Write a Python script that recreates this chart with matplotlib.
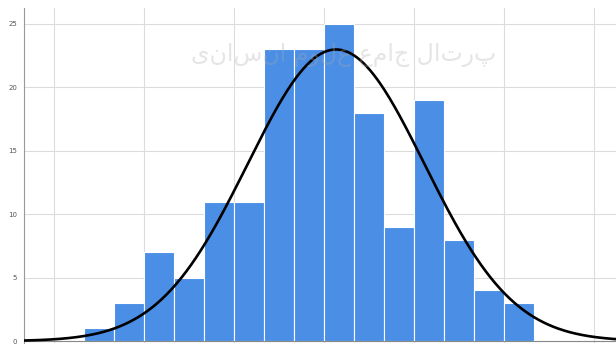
import numpy as np
import matplotlib.pyplot as plt

# histogram counts, one per bin (bin width 1, first bin starts at x=2)
bin_starts = [2, 3, 4, 5, 6, 7, 8, 9, 10, 11, 12, 13, 14, 15, 16]
counts = [1, 3, 7, 5, 11, 11, 23, 23, 25, 18, 9, 19, 8, 4, 3]

# fitted normal curve
mu = 10.4
sigma = 2.95
n_total = sum(counts)

y_ticks = [0, 5, 10, 15, 20, 25]
x_grid = [1, 4, 7, 10, 13, 16, 19]

fig = plt.figure(figsize=(6.16, 3.44), dpi=100)
ax = fig.add_axes([24 / 616, 1 / 344, 1 - 24 / 616, 335 / 344])

ax.bar(bin_starts, counts, width=1, align='edge', color='#4a8ee6',
       edgecolor='white', linewidth=0.8, zorder=2)

x = np.linspace(0, 20, 500)
pdf = n_total / (sigma * np.sqrt(2 * np.pi)) * np.exp(-(x - mu) ** 2 / (2 * sigma ** 2))
ax.plot(x, pdf, color='black', lw=1.9, zorder=3)

# faint watermark (reversed so it reads right to left)
ax.text(0.54, 0.86, 'پرتال جامع علوم انسانی'[::-1], transform=ax.transAxes,
        ha='center', va='center', fontsize=17, color='#aaaaaa', alpha=0.3,
        family=['DejaVu Sans'], zorder=4)

ax.set_xlim(0, 19.73)
ax.set_ylim(-0.15, 26.26)
ax.set_yticks(y_ticks)
ax.set_xticks(x_grid)
ax.set_xticklabels([])
ax.tick_params(axis='x', length=0)
ax.tick_params(axis='y', length=0, labelsize=5, labelcolor='#555555', pad=5)
ax.grid(True, color='#dcdcdc', lw=0.8, zorder=0)
ax.set_axisbelow(True)

for s in ['top', 'right']:
    ax.spines[s].set_visible(False)
ax.spines['left'].set_color('#999999')
ax.spines['left'].set_linewidth(0.8)
ax.spines['bottom'].set_color('#888888')
ax.spines['bottom'].set_linewidth(0.8)
ax.spines['bottom'].set_position(('data', 0))

fig.savefig('out.png', dpi=100)
